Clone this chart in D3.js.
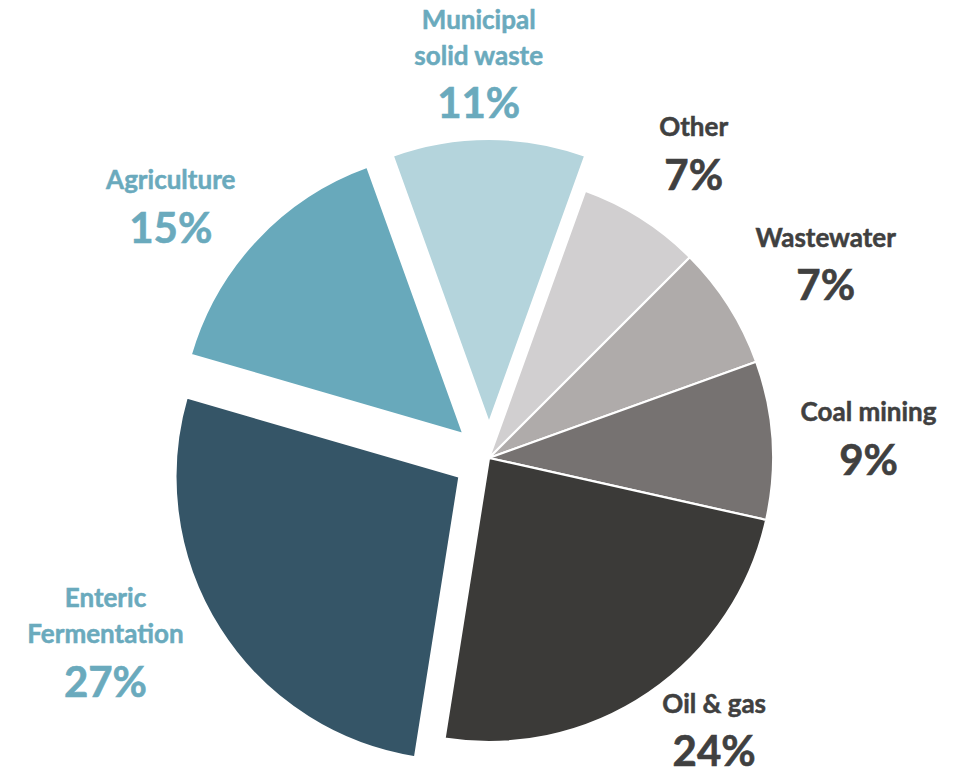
<!DOCTYPE html>
<html>
<head>
<meta charset="utf-8">
<script src="https://cdn.jsdelivr.net/npm/d3@7"></script>
<style>
  html, body { margin: 0; padding: 0; background: #ffffff; }
  svg { display: block; }
  text { font-family: Lato, "Open Sans", "Liberation Sans", sans-serif; font-weight: 700; }
</style>
</head>
<body>
<svg id="chart" width="963" height="778"></svg>
<script>
// Sources of methane emissions, share of total (%)
const categories = ["Municipal solid waste", "Other", "Wastewater", "Coal mining", "Oil & gas", "Enteric Fermentation", "Agriculture"];
const shares = [11, 7, 7, 9, 24, 27, 15];
// Label text split across lines
const labelLines = [["Municipal", "solid waste"], ["Other"], ["Wastewater"], ["Coal mining"], ["Oil & gas"], ["Enteric", "Fermentation"], ["Agriculture"]];
// Slices pulled away from the centre
const exploded = ["Municipal solid waste", "Enteric Fermentation", "Agriculture"];

const sliceColors = ["#b4d4dc", "#d1cfd0", "#afabaa", "#767271", "#3b3a38", "#355567", "#68a9bb"];
const labelColors = ["#6aaabd", "#404040", "#404040", "#404040", "#404040", "#6aaabd", "#6aaabd"];

// Label placement around the pie: angle (deg, clockwise from top) and distance from centre
const labelPolar = [[-1.5, 393], [34.0, 366], [60.2, 388], [87.2, 380], [140.5, 354], [244.2, 426], [308.2, 405]];

const width = 963, height = 778;
const cx = 489, cy = 458;
const radius = 284;
const explodeDist = 35;

const svg = d3.select("#chart");
const g = svg.append("g").attr("transform", `translate(${cx},${cy})`);

const startAngle = -Math.PI * shares[0] / 100;
const pie = d3.pie()
  .value(d => d.value)
  .sort(null)
  .startAngle(startAngle)
  .endAngle(startAngle + 2 * Math.PI);

const data = categories.map((c, i) => ({ name: c, value: shares[i], i }));
const arcs = pie(data);

const arc = d3.arc().innerRadius(0).outerRadius(radius);

g.selectAll("path.slice")
  .data(arcs)
  .join("path")
  .attr("class", "slice")
  .attr("d", arc)
  .attr("fill", d => sliceColors[d.data.i])
  .attr("stroke", "#ffffff")
  .attr("stroke-width", 2.2)
  .attr("stroke-linejoin", "round")
  .attr("transform", d => {
    if (!exploded.includes(d.data.name)) return null;
    const mid = (d.startAngle + d.endAngle) / 2;
    return `translate(${Math.sin(mid) * explodeDist},${-Math.cos(mid) * explodeDist})`;
  });

// Labels: category name lines, then the percentage in larger type
const nameSize = 26, pctSize = 42, lineGap = 36, pctGap = 53.5, capTop = 17;
const labels = g.selectAll("g.label")
  .data(arcs)
  .join("g")
  .attr("class", "label")
  .attr("fill", d => labelColors[d.data.i])
  .attr("stroke", d => labelColors[d.data.i])
  .attr("text-anchor", "middle")
  .attr("transform", d => {
    const [deg, dist] = labelPolar[d.data.i];
    const a = deg * Math.PI / 180;
    return `translate(${Math.sin(a) * dist},${-Math.cos(a) * dist})`;
  });

labels.each(function(d) {
  const lines = labelLines[d.data.i];
  const n = lines.length;
  const blockH = capTop + lineGap * (n - 1) + pctGap;
  const first = -blockH / 2 + capTop;
  const sel = d3.select(this);
  lines.forEach((t, k) => {
    sel.append("text")
      .attr("y", first + k * lineGap)
      .attr("font-size", nameSize)
      .attr("stroke-width", 0.5)
      .text(t);
  });
  sel.append("text")
    .attr("y", first + (n - 1) * lineGap + pctGap)
    .attr("font-size", pctSize)
    .attr("stroke-width", 0.6)
    .text(d3.format(".0f")(d.data.value) + "%");
});
</script>
</body>
</html>
